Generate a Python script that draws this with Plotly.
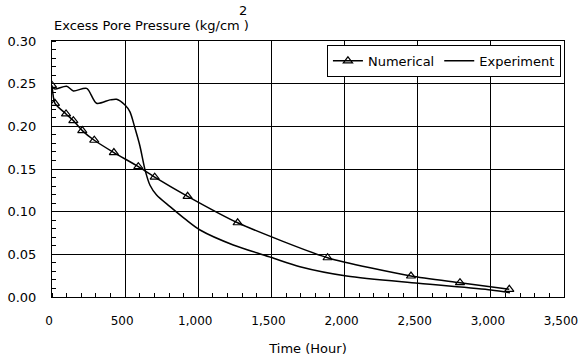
import plotly.graph_objects as go

# Numerical (triangles + line)
num_time = [0, 20, 96, 146, 207, 289, 423, 590, 702, 927, 1269, 1884, 2454, 2789, 3126]
num_pressure = [0.248, 0.227, 0.2145, 0.2067, 0.195, 0.1837, 0.1693, 0.1528, 0.1405, 0.118, 0.087, 0.046, 0.0246, 0.0168, 0.009]

# Experiment (solid curve)
exp_time = [0, 20, 100, 146, 237, 305, 396, 442, 499, 533, 567, 601, 636, 670, 715, 807, 920, 1012, 1239, 1497, 1695, 2014, 2504, 3000, 3130]
exp_pressure = [0.246, 0.2438, 0.247, 0.2415, 0.2445, 0.227, 0.231, 0.2317, 0.225, 0.217, 0.198, 0.177, 0.149, 0.131, 0.1196, 0.1059, 0.090, 0.0785, 0.061, 0.0465, 0.0355, 0.0246, 0.016, 0.0082, 0.005]

x_ticks = [0, 500, 1000, 1500, 2000, 2500, 3000, 3500]
y_ticks = [0.00, 0.05, 0.10, 0.15, 0.20, 0.25, 0.30]

FONT = "DejaVu Sans, Liberation Sans, Arial, sans-serif"

fig = go.Figure()
fig.add_trace(go.Scatter(
    x=num_time, y=num_pressure, name="Numerical",
    mode="lines+markers",
    line=dict(color="black", width=1.5, shape="spline", smoothing=0.6),
    marker=dict(symbol="triangle-up-open", size=8, color="black", line=dict(width=1.2)),
))
fig.add_trace(go.Scatter(
    x=exp_time, y=exp_pressure, name="Experiment",
    mode="lines",
    line=dict(color="black", width=1.5, shape="spline", smoothing=0.8),
))

fig.update_layout(
    width=579, height=364,
    margin=dict(l=52, r=15, t=41, b=67, autoexpand=False),
    paper_bgcolor="white", plot_bgcolor="white",
    font=dict(family=FONT, size=13, color="black"),
    showlegend=True,
    legend=dict(
        orientation="h", x=0.994, xanchor="right", y=0.985, yanchor="top",
        bgcolor="white", bordercolor="black", borderwidth=1,
        font=dict(size=13), itemwidth=30, tracegroupgap=0,
    ),
    xaxis=dict(
        range=[0, 3500], tickvals=x_ticks, tickformat=",d",
        tickfont=dict(size=12),
        showgrid=True, gridcolor="black", gridwidth=1,
        showline=True, linecolor="black", linewidth=1, mirror=True,
        ticks="outside", ticklen=13, tickcolor="rgba(0,0,0,0)",
        ticklabeloverflow="allow", ticklabelshift=-3, automargin=False,
        minor=dict(dtick=100, ticks="inside", ticklen=4, tickcolor="black", showgrid=False),
        zeroline=False,
        title=dict(text="Time (Hour)", font=dict(size=13), standoff=16),
    ),
    yaxis=dict(
        range=[0, 0.30], tickvals=y_ticks, tickformat=".2f",
        showgrid=True, gridcolor="black", gridwidth=1,
        showline=True, linecolor="black", linewidth=1, mirror=True,
        ticks="outside", ticklen=12, tickcolor="rgba(0,0,0,0)",
        ticklabeloverflow="allow", automargin=False,
        minor=dict(dtick=0.01, ticks="inside", ticklen=4, tickcolor="black", showgrid=False),
        zeroline=False,
    ),
    annotations=[
        dict(text="Excess Pore Pressure (kg/cm )", xref="paper", yref="paper",
             x=0, y=1, xanchor="left", yanchor="bottom", yshift=6,
             showarrow=False, font=dict(size=13)),
        dict(text="2", xref="paper", yref="paper",
             x=(243 - 52) / 512, y=1, xanchor="center", yanchor="bottom", yshift=21,
             showarrow=False, font=dict(size=13)),
    ],
)

fig.write_html("out.html")
